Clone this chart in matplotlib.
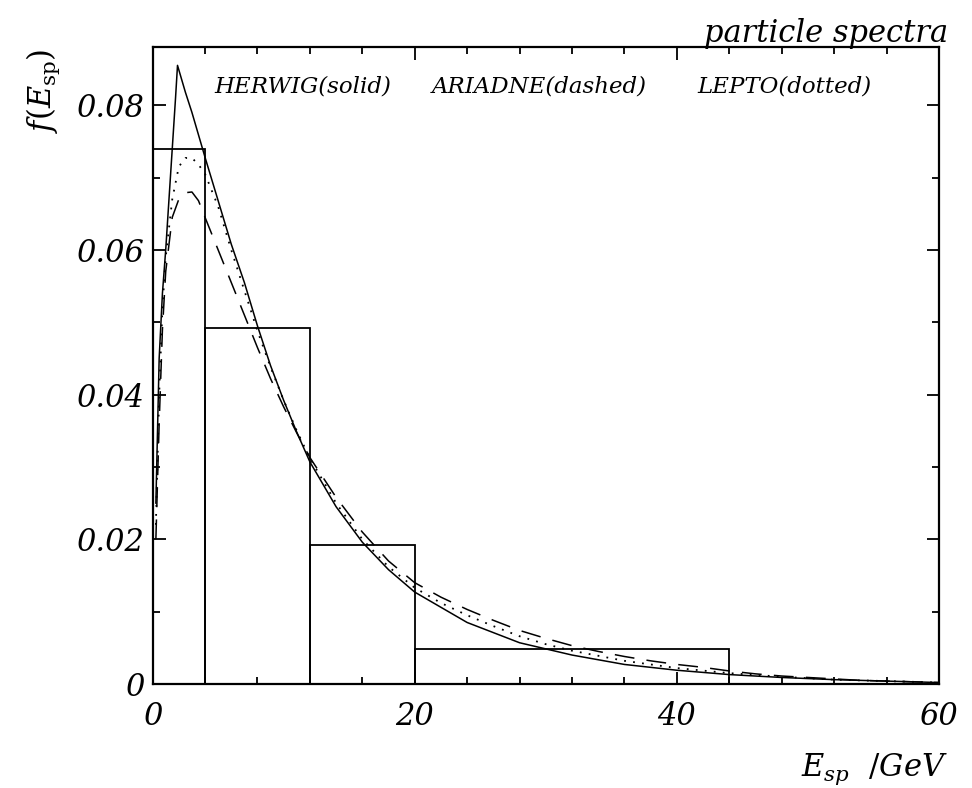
"""
Particle spectra
===============================================================================
"""

import matplotlib

matplotlib.use("Agg")
import matplotlib.pyplot as plt
import numpy as np
from matplotlib.ticker import FixedLocator, MultipleLocator

# measured histogram (bin edges in GeV, heights)
bin_edges = [0, 4, 12, 20, 44]
bin_heights = [0.0740, 0.0492, 0.0192, 0.0049]

# HERWIG (solid)
herwig_x = [0.25, 0.5, 0.75, 1.0, 1.25, 1.5, 1.75, 1.9, 2.5, 3, 4, 5, 6, 7, 8, 9,
            10, 11, 12, 14, 16, 18, 20, 24, 28, 32, 36, 40, 44, 48, 52, 56, 60]
herwig_y = [0.025, 0.045, 0.054, 0.060, 0.067, 0.074, 0.081, 0.0855, 0.0818,
            0.079, 0.0728, 0.0668, 0.0608, 0.0555, 0.0495, 0.0440, 0.0392,
            0.0348, 0.0307, 0.0245, 0.0196, 0.0158, 0.0127, 0.0085, 0.0057,
            0.0040, 0.0027, 0.0019, 0.0013, 0.0009, 0.0006, 0.0004, 0.0002]

# ARIADNE (dashed)
ariadne_x = [0.25, 0.5, 0.75, 1.0, 1.5, 2.0, 2.5, 3, 3.5, 4, 5, 6, 7, 8, 9, 10,
             11, 12, 14, 16, 18, 20, 22, 24, 26, 28, 30, 32, 34, 36, 38, 40, 42,
             44, 46, 48, 50, 52, 54, 56, 58, 60]
ariadne_y = [0.020, 0.036, 0.049, 0.057, 0.0645, 0.0670, 0.0679, 0.0680,
             0.0668, 0.0645, 0.0600, 0.0555, 0.0510, 0.0465, 0.0422, 0.0383,
             0.0347, 0.0313, 0.0258, 0.0210, 0.0170, 0.0140, 0.0120, 0.0103,
             0.0088, 0.0074, 0.0063, 0.0053, 0.0045, 0.0038, 0.0032, 0.0027,
             0.0023, 0.0018, 0.0014, 0.0011, 0.0009, 0.0007, 0.0005, 0.0004,
             0.0003, 0.0002]

# LEPTO (dotted)
lepto_x = [0.25, 0.5, 0.75, 1.0, 1.5, 2.0, 2.5, 3, 3.5, 4, 5, 6, 7, 8, 9, 10,
           11, 12, 14, 16, 18, 20, 22, 24, 26, 28, 30, 32, 36, 40, 44, 48, 52,
           56, 60]
lepto_y = [0.022, 0.040, 0.052, 0.059, 0.067, 0.0715, 0.0727, 0.0727, 0.0718,
           0.0705, 0.0660, 0.0600, 0.0544, 0.0488, 0.0438, 0.0392, 0.0350,
           0.0312, 0.0250, 0.0200, 0.0162, 0.0133, 0.0112, 0.0095, 0.0080,
           0.0066, 0.0055, 0.0046, 0.0032, 0.0022, 0.0015, 0.0010, 0.0006,
           0.0004, 0.0002]

y_ticks = [0, 0.02, 0.04, 0.06, 0.08]
y_tick_labels = ["0", "0.02", "0.04", "0.06", "0.08"]
x_ticks = [0, 20, 40, 60]

SERIF = "DejaVu Serif"
plt.rcParams["mathtext.fontset"] = "dejavuserif"

fig = plt.figure(figsize=(9.72, 7.88), dpi=100)
ax = fig.add_axes([0.157, 0.132, 0.809, 0.808])

ax.bar(
    bin_edges[:-1],
    bin_heights,
    width=np.diff(bin_edges),
    align="edge",
    fill=False,
    edgecolor="k",
    linewidth=1.3,
)

ax.plot(herwig_x, herwig_y, color="k", lw=1.1, ls="-")
ax.plot(ariadne_x, ariadne_y, color="k", lw=1.1, ls=(0, (13, 8)))
ax.plot(lepto_x, lepto_y, color="k", lw=1.3, ls=(0, (1, 4)))

ax.set_xlim(0, 60)
ax.set_ylim(0, 0.088)

ax.xaxis.set_major_locator(FixedLocator(x_ticks))
ax.xaxis.set_minor_locator(MultipleLocator(4))
ax.yaxis.set_major_locator(FixedLocator(y_ticks))
ax.yaxis.set_minor_locator(MultipleLocator(0.01))
ax.set_yticklabels(y_tick_labels)
ax.set_xticklabels([str(t) for t in x_ticks])

ax.tick_params(which="both", direction="in", top=True, right=True, width=1.3)
ax.tick_params(which="major", length=9)
ax.tick_params(which="minor", length=5)
ax.tick_params(axis="y", pad=6)
ax.tick_params(axis="x", pad=12)
for lab in ax.get_xticklabels() + ax.get_yticklabels():
    lab.set_fontfamily(SERIF)
    lab.set_fontstyle("italic")
    lab.set_fontsize(22)

for s in ax.spines.values():
    s.set_linewidth(1.6)

text_kw = dict(family=SERIF, style="italic", fontsize=16.5, va="center")
ax.text(4.7, 0.0826, "HERWIG(solid)", **text_kw)
ax.text(21.3, 0.0826, "ARIADNE(dashed)", **text_kw)
ax.text(41.6, 0.0826, "LEPTO(dotted)", **text_kw)

fig.text(0.975, 0.958, "particle spectra", family=SERIF, style="italic",
         fontsize=22, ha="right", va="center")
fig.text(0.975, 0.024, r"$E_{sp}\ \ /GeV$", fontsize=22, ha="right",
         va="center")
fig.text(0.045, 0.885, r"$f(E_{\mathrm{sp}})$", fontsize=22, rotation=90,
         ha="center", va="center")

fig.savefig("out.png", dpi=100)
